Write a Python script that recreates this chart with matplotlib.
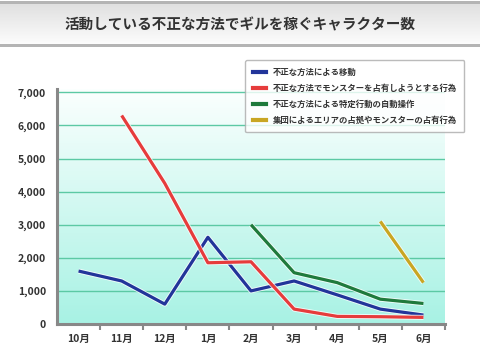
import matplotlib
matplotlib.use('Agg')
import matplotlib.pyplot as plt
import numpy as np
from matplotlib.patches import Rectangle
from matplotlib.lines import Line2D
import matplotlib.patheffects as pe

plt.rcParams['font.family'] = ['Noto Sans CJK JP', 'DejaVu Sans']

# Datos
months = ['10月', '11月', '12月', '1月', '2月', '3月', '4月', '5月', '6月']
series_names = [
    '不正な方法による移動',
    '不正な方法でモンスターを占有しようとする行為',
    '不正な方法による特定行動の自動操作',
    '集団によるエリアの占拠やモンスターの占有行為',
]
move = [1600, 1300, 600, 2620, 1000, 1300, 880, 450, 270]
monster = [None, 6300, 4250, 1850, 1880, 450, 230, 220, 200]
auto = [None, None, None, None, 3000, 1550, 1250, 750, 620]
group = [None, None, None, None, None, None, None, 3100, 1250]
colors = ['#22359a', '#e63c3c', '#1f7a3c', '#c9a623']
y_ticks = [0, 1000, 2000, 3000, 4000, 5000, 6000, 7000]

fig = plt.figure(figsize=(4.8, 3.6), dpi=100)

# Barra del titulo
bg = fig.add_axes([0, 0, 1, 1])
bg.set_xlim(0, 480)
bg.set_ylim(360, 0)
bg.axis('off')
tb_cmap = matplotlib.colors.LinearSegmentedColormap.from_list('tb', ['#e0e0e0', '#fdfdfd'])
# gris arriba, blanco abajo
bg.imshow(np.linspace(0, 1, 100).reshape(-1, 1), extent=[0, 480, 45, 4], origin='upper',
          cmap=tb_cmap, aspect='auto', zorder=0)
bg.add_patch(Rectangle((0, 1), 480, 3, color='#b4b4b4', lw=0))
bg.add_patch(Rectangle((0, 44), 480, 3, color='#b4b4b4', lw=0))
bg.text(240, 24, '活動している不正な方法でギルを稼ぐキャラクター数', ha='center', va='center',
        fontsize=10.5, fontweight='bold', color='#333333')

# Grafico
ax = fig.add_axes([57 / 480, 36 / 360, 388 / 480, 235 / 360])
x = np.arange(len(months))
ax.set_xlim(-0.5, len(months) - 0.5)
ax.set_ylim(0, 7100)

cmap = matplotlib.colors.LinearSegmentedColormap.from_list('bgc', ['#a8f2e4', '#fbfffe'])
ax.imshow(np.linspace(0, 1, 200).reshape(-1, 1), extent=[-0.5, len(months) - 0.5, 0, 7100],
          origin='lower', cmap=cmap, aspect='auto', zorder=0)

for t in y_ticks[1:]:
    ax.axhline(t, color='#5cc9a4', lw=1.0, zorder=1)

for vals, c in zip([move, monster, auto, group], colors):
    xs = [i for i, v in enumerate(vals) if v is not None]
    ys = [v for v in vals if v is not None]
    ax.plot(xs, ys, color=c, lw=2.3, zorder=3, solid_capstyle='butt',
            path_effects=[pe.Stroke(linewidth=3.6, foreground='white', alpha=0.8), pe.Normal()])

ax.set_yticks(y_ticks)
ax.set_yticklabels([f'{t:,}' for t in y_ticks], fontsize=7.5, fontweight='bold', color='#333333')
ax.set_xticks(x)
ax.set_xticklabels(months, fontsize=7.5, fontweight='bold', color='#333333')
ax.tick_params(axis='y', length=0, pad=8)
ax.tick_params(axis='x', which='major', length=0, pad=7)
ax.set_xticks(np.arange(0.5, len(months), 1), minor=True)
ax.tick_params(axis='x', which='minor', length=4, width=1.5, color='#888888', direction='out')

for s in ['top', 'right']:
    ax.spines[s].set_visible(False)
for s in ['left', 'bottom']:
    ax.spines[s].set_color('#888888')
    ax.spines[s].set_linewidth(2.2)

# Leyenda
handles = [Line2D([0], [0], color=c, lw=3) for c in colors]
leg = fig.legend(handles, series_names, loc='upper left', bbox_to_anchor=(241 / 480, 1 - 56 / 360),
                 frameon=True, fancybox=True, edgecolor='#aaaaaa',
                 handlelength=1.6, handletextpad=0.8, labelspacing=0.85, borderpad=0.9,
                 prop={'weight': 'bold', 'size': 6.0})
leg.get_frame().set_linewidth(1.0)
for t in leg.get_texts():
    t.set_color('#333333')

fig.savefig('out.png', dpi=100)
